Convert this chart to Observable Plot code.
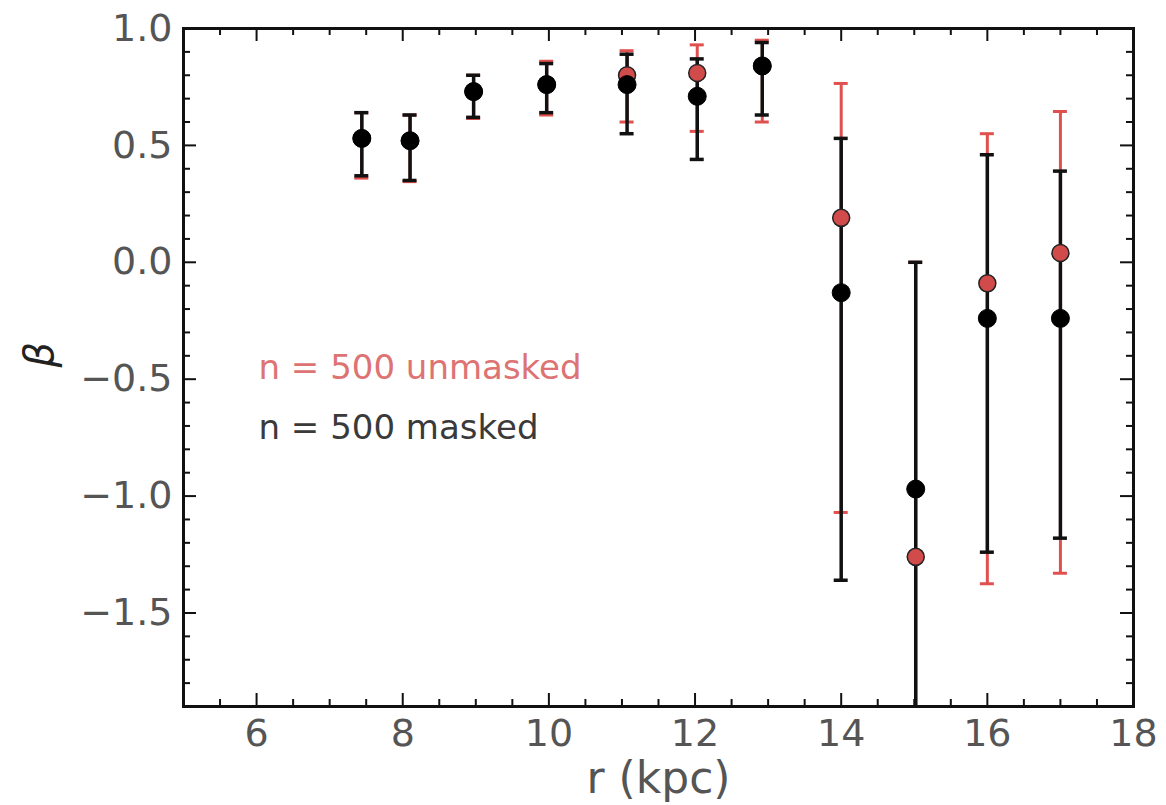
<!DOCTYPE html>
<html>
<head>
<meta charset="utf-8">
<script src="https://cdn.jsdelivr.net/npm/d3@7"></script>
<script src="https://cdn.jsdelivr.net/npm/@observablehq/plot@0.6"></script>
<style>
  html, body { margin: 0; padding: 0; background: #fff; }
  #chart svg { display: block; }
</style>
</head>
<body>
<div id="chart"></div>
<script>
// Radii (kpc)
const rMasked   = [7.44, 8.10, 8.97, 9.97, 11.07, 12.03, 12.92, 14.00, 15.02, 16.00, 17.00];
const rUnmasked = [7.44, 8.10, 8.97, 9.97, 11.07, 12.03, 12.92, 14.00, 15.02, 16.00, 17.00];

// n = 500 masked (black)
const betaMasked  = [0.53, 0.52, 0.73, 0.76, 0.76, 0.71, 0.84, -0.13, -0.97, -0.24, -0.24];
const upperMasked = [0.64, 0.63, 0.80, 0.85, 0.89, 0.87, 0.94,  0.53,  0.00,  0.46,  0.39];
const lowerMasked = [0.37, 0.35, 0.62, 0.64, 0.55, 0.44, 0.63, -1.36, -2.10, -1.24, -1.18];

// n = 500 unmasked (red)
const betaUnmasked  = [0.53, 0.52, 0.73, 0.76, 0.80, 0.81, 0.84,  0.19, -1.26, -0.09,  0.04];
const upperUnmasked = [0.64, 0.63, 0.80, 0.86, 0.905, 0.93, 0.95, 0.765, 0.00,  0.55,  0.645];
const lowerUnmasked = [0.36, 0.345, 0.615, 0.63, 0.60, 0.56, 0.60, -1.07, -2.10, -1.375, -1.33];

const xDomain = [5, 18];
const yDomain = [-1.9, 1.0];
const xMajor = [6, 8, 10, 12, 14, 16, 18];
const yMajor = [-1.5, -1.0, -0.5, 0.0, 0.5, 1.0];
const xMinor = d3.range(10, 37).map(v => v / 2).filter(v => !xMajor.includes(v));
const yMinor = d3.range(-19, 11).map(v => v / 10).filter(v => !yMajor.some(m => Math.abs(m - v) < 1e-9));

const legendLabels = ["n = 500 unmasked", "n = 500 masked"];
const xLabel = "r (kpc)";
const yLabel = "β";

const masked = rMasked.map((r, i) => ({r, beta: betaMasked[i], lo: lowerMasked[i], hi: upperMasked[i]}));
const unmasked = rUnmasked.map((r, i) => ({r, beta: betaUnmasked[i], lo: lowerUnmasked[i], hi: upperUnmasked[i]}));

const W = 1166, H = 805;
const mL = 183, mR = 33, mT = 28, mB = 99;
const PW = W - mL - mR, PH = H - mT - mB;
const majorLen = 13, minorLen = 7;

const font = "DejaVu Sans, Bitstream Vera Sans, sans-serif";
const tickColor = "#555";
const red = "#e0504f";
const redFill = "#d24b4b";

const fmtY = d => (Math.abs(d) < 1e-9 ? "0.0" : d.toFixed(1).replace("-", "\u2212"));

const chart = Plot.plot({
  width: W,
  height: H,
  marginLeft: mL,
  marginRight: mR,
  marginTop: mT,
  marginBottom: mB,
  style: {fontFamily: font, background: "#fff"},
  x: {domain: xDomain},
  y: {domain: yDomain},
  marks: [
    // tick labels
    Plot.axisX({ticks: xMajor, tickSize: 0, tickPadding: 13, fontSize: 38, color: tickColor, label: null, tickFormat: d => String(d)}),
    Plot.axisY({ticks: yMajor, tickSize: 0, tickPadding: 11, fontSize: 38, color: tickColor, label: null, tickFormat: fmtY}),

    // inward ticks, bottom & top
    Plot.tickX(xMajor, {x: d => d, insetTop: PH - majorLen, stroke: "#111", strokeWidth: 2}),
    Plot.tickX(xMinor, {x: d => d, insetTop: PH - minorLen, stroke: "#111", strokeWidth: 2}),
    Plot.tickX(xMajor, {x: d => d, insetBottom: PH - majorLen, stroke: "#111", strokeWidth: 2}),
    Plot.tickX(xMinor, {x: d => d, insetBottom: PH - minorLen, stroke: "#111", strokeWidth: 2}),
    // inward ticks, left & right
    Plot.tickY(yMajor, {y: d => d, insetRight: PW - majorLen, stroke: "#111", strokeWidth: 2}),
    Plot.tickY(yMinor, {y: d => d, insetRight: PW - minorLen, stroke: "#111", strokeWidth: 2}),
    Plot.tickY(yMajor, {y: d => d, insetLeft: PW - majorLen, stroke: "#111", strokeWidth: 2}),
    Plot.tickY(yMinor, {y: d => d, insetLeft: PW - minorLen, stroke: "#111", strokeWidth: 2}),

    // unmasked error bars (red)
    Plot.ruleX(unmasked, {x: "r", y1: "lo", y2: "hi", stroke: red, strokeWidth: 3, clip: true}),
    Plot.ruleY(unmasked, {y: "hi", x1: "r", x2: "r", insetLeft: -7, insetRight: -7, stroke: red, strokeWidth: 3, clip: true}),
    Plot.ruleY(unmasked, {y: "lo", x1: "r", x2: "r", insetLeft: -7, insetRight: -7, stroke: red, strokeWidth: 3, clip: true}),

    // masked error bars (black)
    Plot.ruleX(masked, {x: "r", y1: "lo", y2: "hi", stroke: "#111", strokeWidth: 3.5, clip: true}),
    Plot.ruleY(masked, {y: "hi", x1: "r", x2: "r", insetLeft: -7, insetRight: -7, stroke: "#111", strokeWidth: 3.5, clip: true}),
    Plot.ruleY(masked, {y: "lo", x1: "r", x2: "r", insetLeft: -7, insetRight: -7, stroke: "#111", strokeWidth: 3.5, clip: true}),

    // points
    Plot.dot(unmasked, {x: "r", y: "beta", r: 8.5, fill: redFill, stroke: "#222", strokeWidth: 1.5, clip: true}),
    Plot.dot(masked, {x: "r", y: "beta", r: 9, fill: "#000", stroke: "#000", strokeWidth: 1, clip: true}),

    // legend texts
    Plot.text([legendLabels[0]], {frameAnchor: "top-left", dx: 75, dy: 340, text: d => d, fill: "#dd7373", fontSize: 34, textAnchor: "start", lineAnchor: "middle"}),
    Plot.text([legendLabels[1]], {frameAnchor: "top-left", dx: 75, dy: 400, text: d => d, fill: "#3a3a3a", fontSize: 34, textAnchor: "start", lineAnchor: "middle"}),

    // axis labels
    Plot.text([xLabel], {frameAnchor: "bottom", dy: 72, text: d => d, fill: tickColor, fontSize: 44, lineAnchor: "middle"}),
    Plot.text([yLabel], {frameAnchor: "left", dx: -143, rotate: -90, text: d => d, fill: "#222", fontSize: 40, fontStyle: "italic", lineAnchor: "middle"}),

    Plot.frame({stroke: "#111", strokeWidth: 3})
  ]
});

document.getElementById("chart").appendChild(chart);
</script>
</body>
</html>
